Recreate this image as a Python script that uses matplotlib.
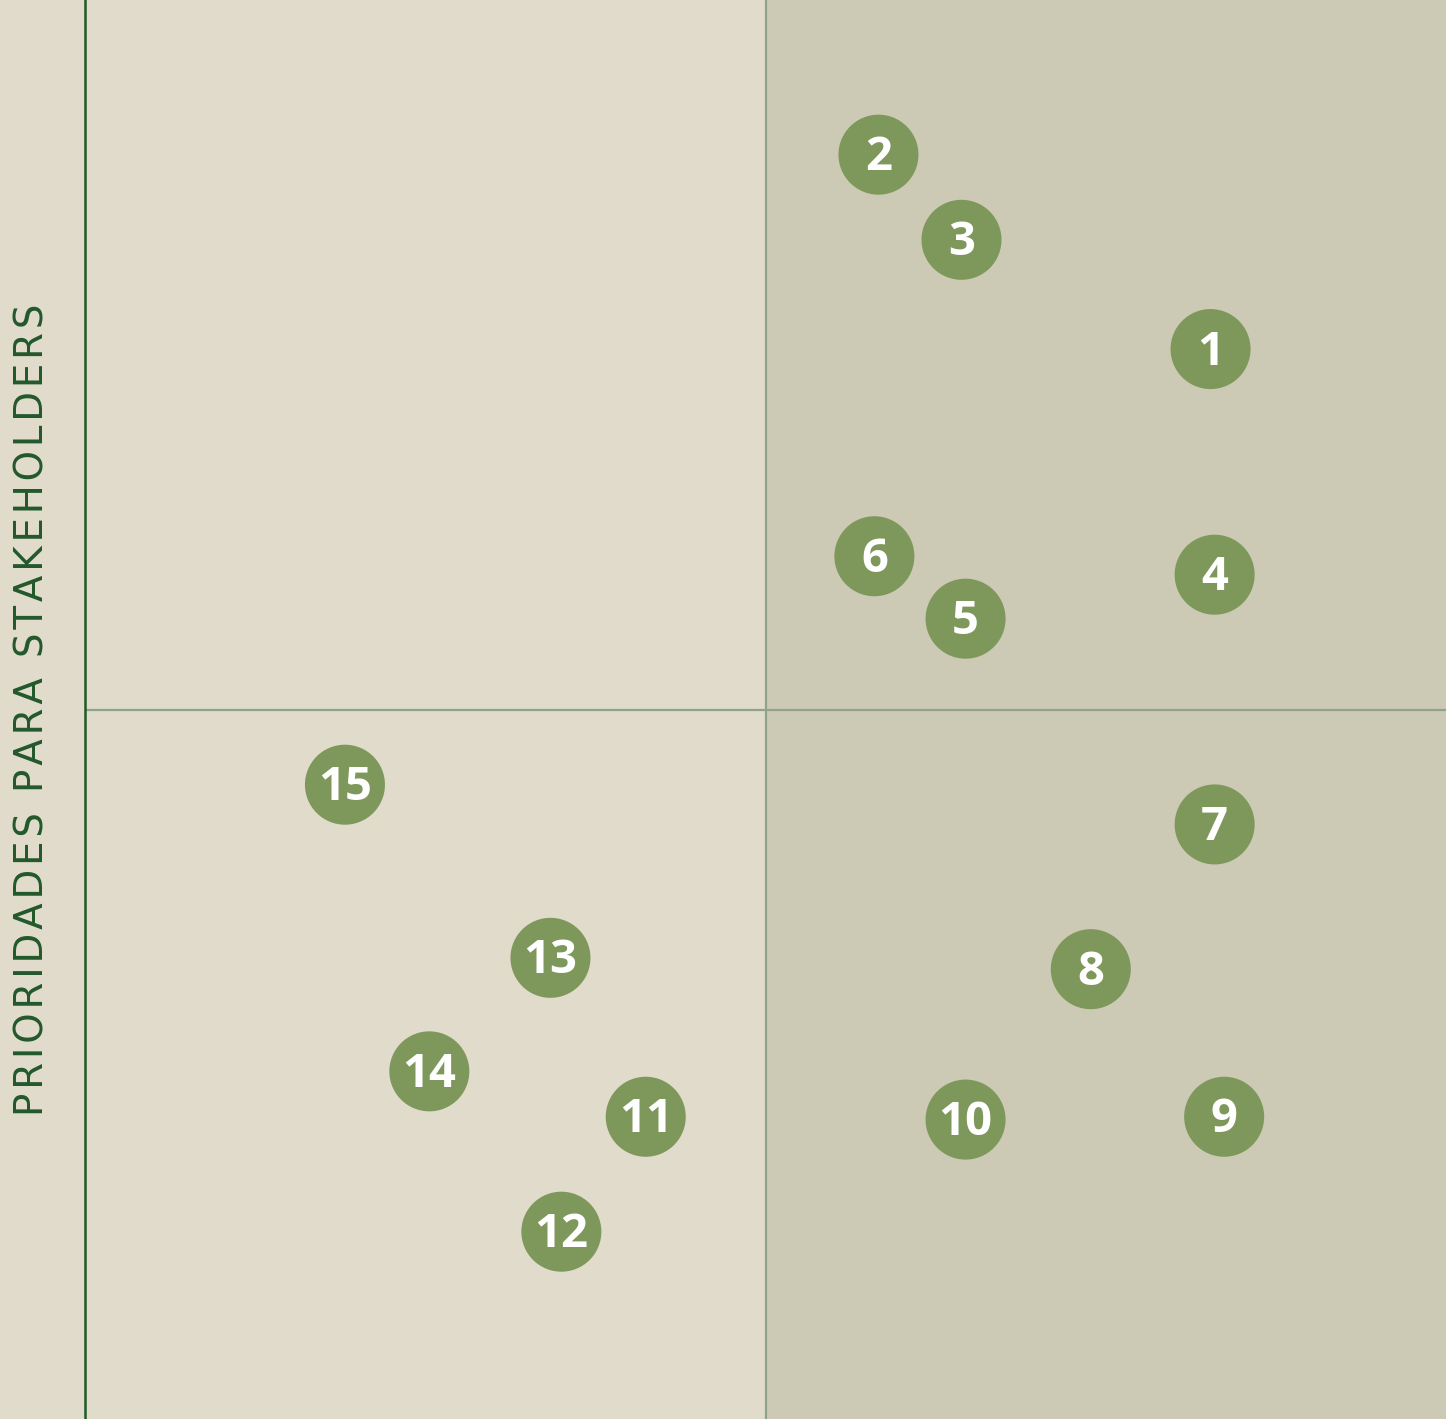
import matplotlib
matplotlib.use("Agg")
import matplotlib.pyplot as plt

# Data, axes 0-10 with quadrant split at 5
labels = ["1", "2", "3", "4", "5", "6", "7", "8", "9", "10", "11", "12", "13", "14", "15"]
x_vals = [8.27, 5.83, 6.44, 8.30, 6.47, 5.80, 8.30, 7.39, 8.37, 6.47, 4.12, 3.50, 3.42, 2.53, 1.91]
y_vals = [7.54, 8.91, 8.31, 5.95, 5.64, 6.08, 4.19, 3.17, 2.13, 2.11, 2.13, 1.32, 3.25, 2.45, 4.47]
y_label = "PRIORIDADES PARA STAKEHOLDERS"

W, H, DPI = 1446, 1419, 100
fig = plt.figure(figsize=(W / DPI, H / DPI), dpi=DPI, facecolor="#E1DBCB")
ax = fig.add_axes([85 / W, 0, 1 - 85 / W, 1])
ax.set_facecolor("none")
ax.set_xlim(0, 10)
ax.set_ylim(0, 10)

ax.axvspan(5, 10, color="#CCCAB5", zorder=0, lw=0)
ax.axvline(5, color="#8FA38A", lw=1.6, zorder=1)
ax.axhline(5, color="#8FA38A", lw=1.6, zorder=1)

for s in ["top", "right", "bottom"]:
    ax.spines[s].set_visible(False)
ax.spines["left"].set_color("#1E5A28")
ax.spines["left"].set_linewidth(1.8)
ax.set_xticks([])
ax.set_yticks([])

ax.scatter(x_vals, y_vals, s=3320, color="#7E985B", edgecolors="none", zorder=3)
for lab, x, y in zip(labels, x_vals, y_vals):
    ax.annotate(lab, (x, y), xytext=(0, -2.2), textcoords="offset points",
                ha="center", va="center", color="white",
                fontsize=34, fontweight="bold", family=["Open Sans", "DejaVu Sans"], zorder=4)

spaced = "\u200a".join(y_label)
fig.text(33 / W, 1 - 710 / H, spaced, rotation=90, ha="center", va="center",
         color="#22582B", fontsize=27.9, family=["DejaVu Sans"])

fig.savefig("out.png", dpi=DPI, facecolor=fig.get_facecolor())
